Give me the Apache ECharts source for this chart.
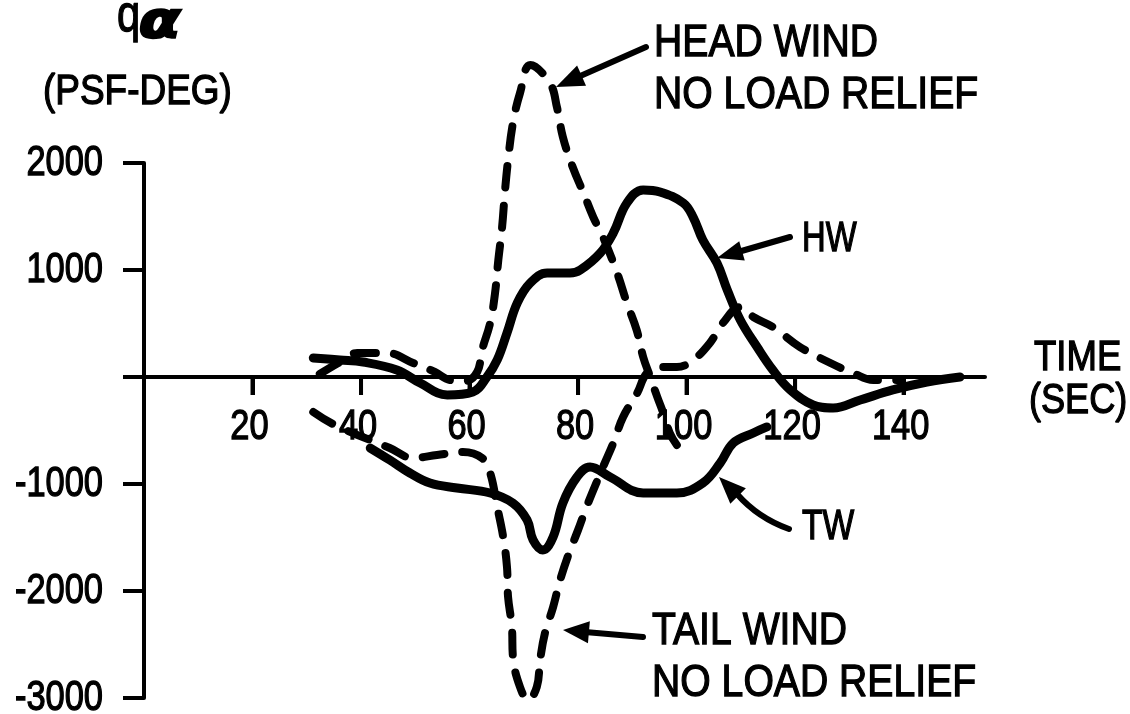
<!DOCTYPE html>
<html><head><meta charset="utf-8">
<script src="https://cdn.jsdelivr.net/npm/echarts@6/dist/echarts.min.js"></script>
<style>html,body{margin:0;padding:0;background:#fff}#c{width:1130px;height:714px}</style>
</head><body><div id="c"></div>
<script>
// ---- data ----
const xTickValues = [20, 40, 60, 80, 100, 120, 140];
const yTickValues = [-3000, -2000, -1000, 1000, 2000];

// HW (solid, head wind with load relief)
const hwTime  = [31.2, 36.1, 40.4, 46.6, 50.9, 55.9, 60.6, 63.2, 65.1, 66.9, 68.8, 71.2, 74.3, 78.5, 80.4, 84.1, 86.5, 89, 92, 95.1, 99.4, 101.2, 103, 105.6, 107.5, 109.9, 113, 115.9, 119.1, 123.3, 127, 132, 138, 144.3, 150.4];
const hwValue = [178, 159, 140, 65, -56, -168, -140, 0, 159, 411, 692, 879, 972, 972, 1000, 1159, 1346, 1626, 1748, 1729, 1626, 1495, 1280, 1065, 813, 533, 280, 65, -121, -262, -290, -215, -121, -47, 0];

// Head wind, no load relief (dashed)
const headTime  = [32.4, 35.8, 39.3, 44.8, 49.6, 53.6, 56.4, 59.2, 61.4, 62.3, 63.8, 64.7, 65.3, 66, 66.5, 67.1, 68, 69.3, 71.2, 74.8, 76.1, 77.2, 79, 81, 82.8, 84.6, 87.2, 89, 90.8, 92, 93.3, 94.6, 95.7, 96.9, 98.2];
const headValue = [28, 131, 224, 224, 131, 47, -28, -37, 47, 252, 505, 785, 1093, 1402, 1720, 2028, 2374, 2654, 2916, 2748, 2523, 2243, 1963, 1720, 1495, 1308, 972, 692, 439, 187, 0, -187, -336, -523, -636];

// TW (solid, tail wind with load relief)
const twTime  = [41.7, 45.3, 49, 52.7, 57.7, 63.8, 68, 70.6, 71.7, 73.5, 75.4, 77.2, 79.8, 82.2, 85.9, 92, 98.2, 103, 106.2, 108.6, 112.3, 114.8];
const twValue = [-664, -776, -897, -991, -1037, -1084, -1178, -1336, -1523, -1617, -1495, -1178, -935, -841, -935, -1084, -1084, -991, -804, -617, -523, -467];

// Tail wind, no load relief (dashed)
const tailTime  = [31.2, 35.2, 45.3, 49.6, 54, 58.8, 62.3, 63.8, 65.1, 66.2, 66.9, 67.1, 67.8, 68, 69.3, 70.8, 72.4, 73, 73.9, 75.4, 76.7, 78.2, 80, 81.7, 84.6, 86.5, 88.3, 90.9, 92.7, 95.1, 98.2, 101.2, 104.3, 106.7, 109.9, 112.3, 115.9, 120.9, 126.5, 130.7, 134.4, 139.4];
const tailValue = [-327, -449, -664, -757, -729, -701, -757, -897, -1215, -1495, -1776, -2056, -2336, -2617, -2897, -3019, -2897, -2645, -2393, -2150, -1897, -1664, -1430, -1196, -841, -617, -374, -150, 37, 93, 93, 159, 318, 505, 654, 561, 467, 280, 131, 37, -28, -28];

const FONT = '"Liberation Sans", Arial, sans-serif';
const pairs = (xs, ys) => xs.map((x, i) => [x, ys[i]]);

const solidStyle = { color: '#000', width: 9, cap: 'round', join: 'round' };
const dashStyle = { color: '#000', width: 8, type: [22, 18], cap: 'round', join: 'round' };

function txt(text, x, y, size, extra, align, sx) {
  return {
    type: 'text', x: x, y: y, z: 100, scaleX: sx || 0.85,
    style: Object.assign({ text: text, fill: '#000', stroke: '#000', lineWidth: 1.3,
      fontSize: size, fontFamily: FONT, textAlign: align || 'left', textVerticalAlign: 'middle' }, extra || {})
  };
}
function arrowHead(tipX, tipY, fromX, fromY, len, half) {
  const dx = tipX - fromX, dy = tipY - fromY, d = Math.hypot(dx, dy);
  const ux = dx / d, uy = dy / d;
  const bx = tipX - ux * len, by = tipY - uy * len;
  return { type: 'polygon', z: 100, shape: { points: [[tipX, tipY], [bx - uy * half, by + ux * half], [bx + uy * half, by - ux * half]] }, style: { fill: '#000' } };
}
function line(x1, y1, x2, y2, w) {
  return { type: 'line', z: 100, shape: { x1, y1, x2, y2 }, style: { stroke: '#000', lineWidth: w || 6, lineCap: 'round' } };
}

const option = {
  backgroundColor: '#fff',
  animation: false,
  grid: { left: 144, right: 145, top: 163, bottom: 16, containLabel: false, outerBoundsMode: 'none' },
  xAxis: {
    type: 'value', min: 0, max: 155,
    axisLine: { onZero: true, lineStyle: { color: '#000', width: 4 } },
    axisTick: { customValues: xTickValues, length: 18, lineStyle: { color: '#000', width: 4 } },
    axisLabel: { customValues: xTickValues, margin: 32, color: 'rgba(0,0,0,0)', fontSize: 42, fontFamily: FONT },
    splitLine: { show: false }
  },
  yAxis: {
    type: 'value', min: -3000, max: 2000, interval: 1000,
    axisLine: { show: true, onZero: true, lineStyle: { color: '#000', width: 4 } },
    axisTick: { show: true, length: 21, lineStyle: { color: '#000', width: 4 } },
    axisLabel: { show: true, formatter: () => '' },
    splitLine: { show: false }
  },
  series: [
    { name: 'HW', type: 'line', data: pairs(hwTime, hwValue), smooth: 0.4, symbol: 'none', lineStyle: solidStyle },
    { name: 'HEAD WIND NO LOAD RELIEF', type: 'line', clip: false, data: pairs(headTime, headValue), smooth: 0.4, symbol: 'none', lineStyle: dashStyle },
    { name: 'TW', type: 'line', data: pairs(twTime, twValue), smooth: 0.4, symbol: 'none', lineStyle: solidStyle },
    { name: 'TAIL WIND NO LOAD RELIEF', type: 'line', data: pairs(tailTime, tailValue), smooth: 0.4, symbol: 'none', lineStyle: dashStyle }
  ]
};

const chart = echarts.init(document.getElementById('c'), null, { renderer: 'canvas' });
chart.setOption(option);

// tick marks and tick labels placed through the axes' own scales
const axisMarks = [];
xTickValues.forEach(v => {
  const p = chart.convertToPixel({ gridIndex: 0 }, [v, 0]);
  const px = Number(p[0]), py = Number(p[1]);
  axisMarks.push({ type: 'rect', x: px - 2, y: py, z: 110,
    shape: { x: 0, y: 0, width: 4, height: 18 }, style: { fill: '#000' } });
  axisMarks.push(txt(String(v), px - 3, py + 50, 42, null, 'center', 0.82));
});
yTickValues.forEach(v => {
  const p = chart.convertToPixel({ gridIndex: 0 }, [0, v]);
  axisMarks.push(txt(String(v), Number(p[0]) - 41, Number(p[1]), 42, null, 'right', 0.82));
});

option.graphic = axisMarks.concat([
  txt('q', 117, 17, 52, null, 'left', 0.8),
  txt('α', 139, 24, 50, { fontWeight: 'bold', fontStyle: 'italic', fontFamily: '"DejaVu Sans", sans-serif', lineWidth: 2.5 }, 'left', 1.2),
  txt('(PSF-DEG)', 43, 92, 42, null, 'left', 0.88),
  txt('TIME', 1034, 358, 42, null, 'left', 0.87),
  txt('(SEC)', 1029, 401, 42, null, 'left', 0.86),
  txt('HEAD WIND', 654, 44, 45, null, 'left', 0.87),
  txt('NO LOAD RELIEF', 654, 96, 45, null, 'left', 0.87),
  txt('HW', 802, 239, 42, null, 'left', 0.78),
  txt('TW', 802, 527, 42, null, 'left', 0.8),
  txt('TAIL WIND', 652, 632, 45, null, 'left', 0.87),
  txt('NO LOAD RELIEF', 652, 684, 45, null, 'left', 0.87),
  // arrows
  line(646, 47, 578, 77), arrowHead(556, 87, 646, 47, 28, 11),
  line(790, 237, 738, 252), arrowHead(717, 258, 790, 237, 26, 10),
  { type: 'bezierCurve', z: 100, shape: { x1: 789, y1: 529, x2: 737, y2: 494, cpx1: 758, cpy1: 518 }, style: { stroke: '#000', lineWidth: 6, lineCap: 'round', fill: null } },
  arrowHead(719, 477, 742, 500, 27, 11),
  line(643, 637, 585, 632), arrowHead(563, 630, 643, 637, 26, 11)
]);

// one full, non-merged render with everything in place
chart.setOption(option, true);
</script>
</body></html>
